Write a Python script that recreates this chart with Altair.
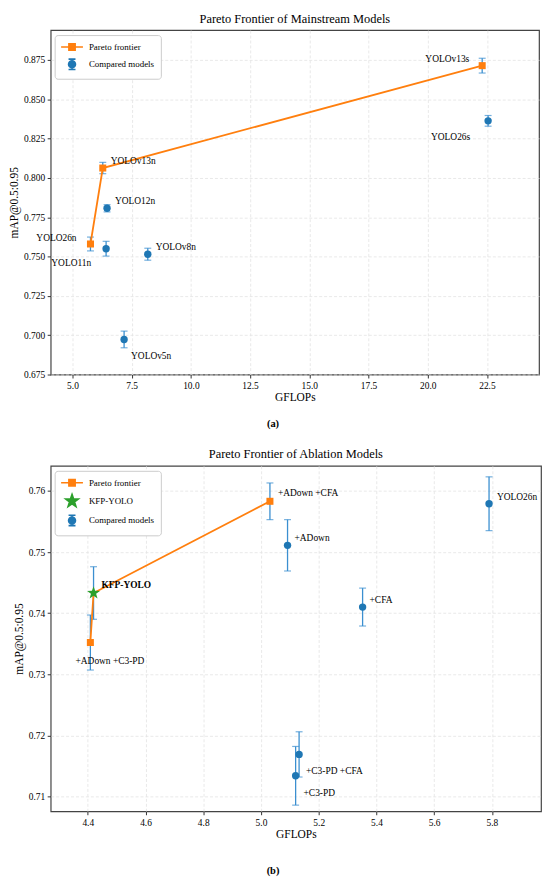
import altair as alt
import pandas as pd
import numpy as np

# ---------------- data: panel (a) ----------------
a_models = ["YOLOv13s", "YOLO26s", "YOLOv13n", "YOLO12n", "YOLO26n", "YOLO11n", "YOLOv8n", "YOLOv5n"]
a_gflops = [22.30, 22.55, 6.28, 6.46, 5.76, 6.42, 8.18, 7.18]
a_map = [0.8714, 0.8363, 0.8063, 0.7807, 0.7580, 0.7550, 0.7515, 0.6973]
a_err = [0.0047, 0.0034, 0.0036, 0.0023, 0.0044, 0.0047, 0.0038, 0.0053]
a_kind = ["pareto", "compared", "pareto", "compared", "pareto", "compared", "compared", "compared"]
a_xticks = [5.0, 7.5, 10.0, 12.5, 15.0, 17.5, 20.0, 22.5]
a_yticks = [0.675, 0.700, 0.725, 0.750, 0.775, 0.800, 0.825, 0.850, 0.875]

# ---------------- data: panel (b) ----------------
b_models = ["+ADown +CFA", "+ADown", "+CFA", "YOLO26n", "KFP-YOLO", "+ADown +C3-PD", "+C3-PD +CFA", "+C3-PD"]
b_gflops = [5.031, 5.092, 5.352, 5.790, 4.420, 4.409, 5.132, 5.120]
b_map = [0.7583, 0.7511, 0.7410, 0.7579, 0.7433, 0.7352, 0.7169, 0.7134]
b_err = [0.0030, 0.0042, 0.0031, 0.0044, 0.0043, 0.0045, 0.0037, 0.0048]
b_kind = ["pareto", "compared", "compared", "compared", "kfp", "pareto", "compared", "compared"]
b_xticks = [4.4, 4.6, 4.8, 5.0, 5.2, 5.4, 5.6, 5.8]
b_yticks = [0.71, 0.72, 0.73, 0.74, 0.75, 0.76]

# ---------------- label placement (style) ----------------
a_label_pos = {
    "YOLOv13s": (-13, -7, "right"), "YOLO26s": (-18, 16, "right"),
    "YOLOv13n": (8, -7, "left"), "YOLO12n": (8, -7, "left"),
    "YOLO26n": (-14, -6, "right"), "YOLO11n": (-15, 14, "right"),
    "YOLOv8n": (8, -7, "left"), "YOLOv5n": (7, 17, "left"),
}
b_label_pos = {
    "+ADown +CFA": (8, -8, "left"), "+ADown": (7, -7, "left"), "+CFA": (7, -7, "left"),
    "YOLO26n": (8, -7, "left"), "KFP-YOLO": (8, -8, "left"),
    "+ADown +C3-PD": (-15, 19, "left"), "+C3-PD +CFA": (7, 17, "left"), "+C3-PD": (8, 17, "left"),
}

BLUE = "#1f77b4"
ORANGE = "#ff7f0e"
GREEN = "#2ca02c"
ERR = "#3b8fd0"
FONT = "Liberation Serif"


def star_path(outer, inner):
    ang = np.arange(10) * np.pi / 5 - np.pi / 2
    rad = np.where(np.arange(10) % 2 == 0, outer, inner)
    return "M" + "L".join(f"{r*np.cos(t):.3f},{r*np.sin(t):.3f}" for r, t in zip(rad, ang)) + "Z"


STAR_MARK = star_path(1.0, 0.4)
# legend symbol paths (unit = 5 px at symbolSize 100)
PATH_PARETO = "M-2.2,0H2.2M-0.63,-0.63H0.63V0.63H-0.63Z"
PATH_CMP = ("M0,-1.05V1.05M-0.7,-1.05H0.7M-0.7,1.05H0.7"
            "M0.7,0A0.7,0.7 0 1,1 -0.7,0A0.7,0.7 0 1,1 0.7,0Z")
PATH_STAR = star_path(1.35, 0.54)


def panel(models, gx, gy, ge, kind, xdom, ydom, xticks, yticks, xfmt, yfmt,
          label_pos, title, plabel, plab_dy, leg_labels, leg_colors, leg_paths, field, w, h):
    df = pd.DataFrame({"model": models, "g": gx, "m": gy, "e": ge, "kind": kind})
    df["lo"] = df["m"] - df["e"]
    df["hi"] = df["m"] + df["e"]
    X = alt.X("g:Q", scale=alt.Scale(domain=xdom, nice=False, zero=False),
              axis=alt.Axis(values=xticks, format=xfmt, title="GFLOPs"))
    Y = alt.Y("m:Q", scale=alt.Scale(domain=ydom, nice=False, zero=False),
              axis=alt.Axis(values=yticks, format=yfmt, title="mAP@0.5:0.95"))
    layers = [
        alt.Chart(df).mark_rule(color=ERR, strokeWidth=1.3).encode(x=X, y=alt.Y("lo:Q"), y2="hi:Q"),
        alt.Chart(df).mark_tick(color=ERR, orient="horizontal", size=7, thickness=1.2).encode(x=X, y=alt.Y("lo:Q")),
        alt.Chart(df).mark_tick(color=ERR, orient="horizontal", size=7, thickness=1.2).encode(x=X, y=alt.Y("hi:Q")),
    ]
    df_line = df[df["kind"] != "compared"].sort_values("g")
    layers.append(alt.Chart(df_line).mark_line(color=ORANGE, strokeWidth=1.8).encode(x=X, y=Y))
    layers.append(alt.Chart(df[df["kind"] == "compared"]).mark_point(
        filled=True, shape="circle", size=55, color=BLUE, opacity=1).encode(x=X, y=Y))
    layers.append(alt.Chart(df[df["kind"] == "pareto"]).mark_point(
        filled=True, shape="square", size=50, color=ORANGE, opacity=1).encode(x=X, y=Y))
    if (df["kind"] == "kfp").any():
        layers.append(alt.Chart(df[df["kind"] == "kfp"]).mark_point(
            filled=True, shape=STAR_MARK, size=185, color=GREEN, opacity=1).encode(x=X, y=Y))
    for mname in models:
        dx, dy, al = label_pos[mname]
        bold = mname == "KFP-YOLO"
        layers.append(alt.Chart(df[df["model"] == mname]).mark_text(
            font=FONT, fontSize=9.5, fontWeight="bold" if bold else "normal", color="black",
            dx=dx, dy=dy, align=al, baseline="middle").encode(x=X, y=Y, text="model:N"))
    # legend (drawn from scales of a clipped, off-view layer)
    legend = alt.Legend(title=None, orient="none", legendX=4, legendY=5, padding=6,
                        fillColor="white", strokeColor="#cccccc", cornerRadius=3,
                        labelFont=FONT, labelFontSize=9, labelColor="black",
                        symbolSize=100, symbolOffset=5.5, labelOffset=11, rowPadding=1.5,
                        symbolStrokeWidth=1.6)
    leg_df = pd.DataFrame({field: leg_labels})
    layers.append(alt.Chart(leg_df).mark_point(filled=True, clip=True, strokeWidth=1.6, opacity=1).encode(
        x=alt.value(-60), y=alt.value(-60),
        shape=alt.Shape(f"{field}:N", scale=alt.Scale(domain=leg_labels, range=leg_paths), legend=legend),
        fill=alt.Fill(f"{field}:N", scale=alt.Scale(domain=leg_labels, range=leg_colors), legend=legend),
        stroke=alt.Stroke(f"{field}:N", scale=alt.Scale(domain=leg_labels, range=leg_colors), legend=legend),
    ))
    layers.append(alt.Chart(pd.DataFrame({"t": [plabel]})).mark_text(
        font=FONT, fontSize=10.5, fontWeight="bold", color="black", align="center", baseline="middle").encode(
        x=alt.value(224), y=alt.value(h + plab_dy), text="t:N"))
    return alt.layer(*layers).properties(
        width=w, height=h,
        title=alt.Title(title, font=FONT, fontSize=12.5, fontWeight="normal", color="black", offset=5))


top = panel(a_models, a_gflops, a_map, a_err, a_kind, [4.08, 24.7], [0.675, 0.894],
            a_xticks, a_yticks, ".1f", ".3f", a_label_pos,
            "Pareto Frontier of Mainstream Models", "(a)", 50,
            ["Pareto frontier", "Compared models"], [ORANGE, BLUE], [PATH_PARETO, PATH_CMP], "sa", 492, 347)
bottom = panel(b_models, b_gflops, b_map, b_err, b_kind, [4.2715, 5.97], [0.7076, 0.7641],
               b_xticks, b_yticks, ".1f", ".2f", b_label_pos,
               "Pareto Frontier of Ablation Models", "(b)", 60,
               ["Pareto frontier", "KFP-YOLO", "Compared models"], [ORANGE, GREEN, BLUE],
               [PATH_PARETO, PATH_STAR, PATH_CMP], "sb", 494, 348)

chart = alt.vconcat(top, bottom, spacing=16).resolve_scale(
    x="independent", y="independent", shape="independent", fill="independent", stroke="independent"
).resolve_legend(shape="independent", fill="independent", stroke="independent").properties(
    padding={"left": 0, "top": 0, "right": 0, "bottom": 0}
).configure_view(stroke="#444444", strokeWidth=1.2).configure_axis(
    labelFont=FONT, labelFontSize=9.5, labelColor="black", titleFont=FONT, titleFontSize=11.5,
    titleFontWeight="normal", titleColor="black", tickColor="#333333", tickSize=3.5, domain=False,
    gridColor="#e3e3e3", gridDash=[3, 2], gridWidth=0.8, labelPadding=2.5,
).configure_axisX(titlePadding=2).configure_axisY(titlePadding=4)

chart.save("out.html", embed_options={"renderer": "svg", "actions": False})
